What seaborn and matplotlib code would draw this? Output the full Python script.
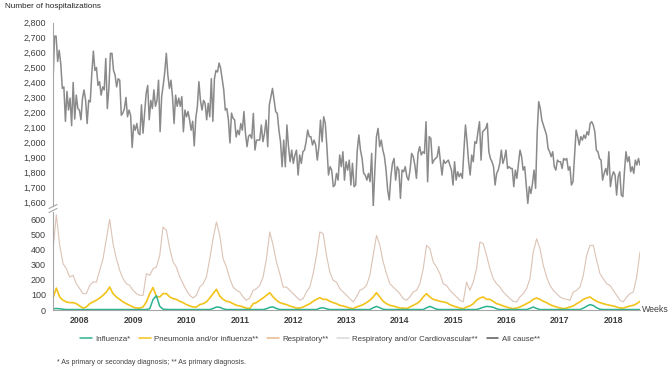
import numpy as np
import matplotlib
matplotlib.use("Agg")
import matplotlib.pyplot as plt
from matplotlib.lines import Line2D
import seaborn as sns

# ---------------- data ----------------
years = [str(y) for y in range(2008, 2019)]

# All cause** (weekly) in three consecutive stretches
all_cause_a = [2400, 2710, 2710, 2540, 2615, 2525, 2360, 2370, 2140, 2340, 2215, 2295, 2110, 2400, 2155, 2315,
               2225, 2215, 2150, 2295, 2350, 2280, 2125, 2280, 2270, 2460, 2610, 2480, 2500, 2380, 2405, 2315,
               2370, 2350, 2560, 2225,
               2360, 2595, 2595, 2480, 2450, 2370, 2425, 2415, 2180, 2195, 2225, 2300, 2170, 2215, 2180, 1965,
               2115, 2080, 2125, 2060, 2050, 2250, 2060, 2195, 2325, 2380, 2150, 2280, 2225, 2350, 2240, 2280,
               2415, 2070,
               2305, 2380, 2470, 2595, 2450, 2360, 2415, 2305, 2125, 2315, 2240, 2295, 2240, 2305, 2070, 2215,
               2170, 2205, 2150, 2080, 2140, 1975, 2160, 2240, 2405, 2280, 2215, 2280, 2260, 2150, 2260, 2170,
               2425, 2140,
               2425, 2480, 2470, 2530, 2495, 2425, 2350, 2215, 2225, 2150, 1995, 2195, 2160, 2150, 2035, 2080,
               2050, 2125, 2080, 2205, 2060, 1970, 2040, 2050]
all_cause_b = [2025, 2193, 1947, 2014, 2014, 2014, 2115, 2003, 2059, 2148, 1970, 2249, 2304, 2360, 2282, 2204,
               2193, 2081, 2003, 1836, 2014, 1836, 2115, 1970, 1869, 1947, 1858, 1914, 1947, 1780, 1914, 1858,
               1936, 1947, 2003, 2081, 2037, 2037, 1981, 2014, 1981, 1880, 1970, 2148, 2003, 2170, 2126, 1970,
               1780, 1836, 1813, 1702, 1713, 1791, 1746, 1914, 1836, 1936, 1746, 1869, 1813, 1880, 1713, 1858,
               1702, 1713, 1947, 2048, 1947, 1891, 1791, 1780, 1746, 1791, 1735, 1925, 1568, 1813, 2037, 2092,
               1970, 2014, 1947, 1903, 1813, 1680, 1613, 1769, 1858, 1891, 1746, 1836, 1813, 1624, 1813, 1802,
               1836, 1769, 1746, 1813, 1925, 1903, 1847, 1758, 1925, 1970, 1914, 1936, 1925, 2137, 1735, 2037,
               2025, 1858, 1880, 1891, 1903, 1970, 1869, 1780, 1880, 1858]
all_cause_c = [1869, 1880, 1847, 1813, 1713, 1869, 1746, 1802, 1769, 1791, 1758, 1947, 2115, 2003, 1869, 1780,
               1914, 1869, 2003, 1992, 2070, 2137, 1880, 2070, 2081, 2092, 2126, 1936, 1891, 1869, 1836, 1713,
               1791, 1813, 1858, 1947, 1858, 1891, 1947, 1824, 1836, 1824, 1824, 1702, 1813, 1758, 1858, 1947,
               1903, 1813, 1836, 1713, 1590, 1702, 1657, 1724, 1813, 1691, 2059, 2271, 2226, 2148, 2115, 2081,
               2048, 1958, 1936, 1903, 1936, 1836, 1813, 1880, 1869, 1869, 1824, 1891, 1880, 1891, 1813, 1836,
               1713, 1735, 1903, 2081, 2037, 1981, 2037, 2014, 2048, 2025, 2070, 2048, 2126, 2137, 2115, 2070,
               1947, 1936, 1891, 1880, 1746, 1791, 1824, 1780, 1936, 1702, 1769, 1802, 1780, 1646, 1769, 1802,
               1646, 1635, 1802, 1936, 1869, 1903, 1802, 1836, 1791, 1880, 1847, 1891, 1847]
all_cause_spans = [(2008.0, 2011.694), (2011.694, 2015.35), (2015.35, 2019.0)]

# Respiratory** (every ~3 weeks)
respiratory = [400, 635, 431, 309, 275, 220, 231, 175, 142, 109, 109, 164, 186, 186, 264, 342, 475, 604, 442, 342,
               264, 209, 175, 164, 131, 109, 98, 98, 242, 231, 275, 286, 364, 553, 531, 409, 320, 286, 220, 175,
               131, 98, 80, 98, 153, 175, 220, 342, 475, 586, 497, 342, 286, 209, 153, 131, 120, 87, 65, 80,
               131, 142, 164, 220, 342, 520, 431, 320, 242, 153, 153, 131, 109, 87, 65, 76, 120, 153, 242, 364,
               520, 509, 364, 253, 198, 186, 142, 120, 98, 76, 54, 87, 131, 142, 164, 231, 364, 497, 431, 320,
               242, 175, 153, 131, 109, 76, 65, 87, 120, 131, 175, 275, 431, 409, 320, 286, 242, 175,
               164, 131, 109, 87, 65, 54, 186, 131, 186, 275, 453, 442, 364, 275, 209, 175, 153, 120, 98, 76,
               58, 54, 87, 109, 142, 209, 386, 475, 409, 298, 220, 164, 131, 109, 87, 76, 71, 65, 120, 131,
               153, 231, 364, 431, 431, 331, 242, 209, 175, 164, 131, 98, 65, 54, 87, 109, 120, 220, 386]

# Pneumonia and/or influenza**
pneumonia = [80, 146, 87, 65, 54, 49, 49, 42, 27, 13, 20, 42, 54, 65, 80, 98, 120, 153, 109, 87,
             71, 54, 42, 31, 20, 13, 13, 20, 54, 109, 150, 90, 87, 109, 109, 87, 76, 71, 58, 49,
             36, 27, 20, 20, 36, 42, 54, 80, 109, 138, 93, 71, 58, 54, 42, 31, 27, 20, 13, 9,
             42, 49, 65, 80, 98, 115, 87, 65, 49, 42, 36, 27, 20, 13, 13, 20, 31, 42, 58, 71,
             82, 71, 71, 58, 49, 42, 31, 27, 20, 13, 9, 20, 27, 36, 49, 65, 87, 115, 87, 58,
             42, 31, 27, 20, 13, 13, 9, 20, 31, 42, 58, 87, 109, 87, 71, 65, 58, 54,
             49, 36, 27, 20, 13, 9, 20, 27, 42, 65, 80, 87, 71, 71, 58, 42, 36, 27, 20, 13,
             9, 13, 20, 31, 42, 54, 71, 80, 71, 58, 49, 36, 27, 20, 13, 9, 13, 20, 27, 42,
             54, 71, 80, 87, 71, 58, 49, 42, 36, 31, 27, 20, 13, 13, 20, 27, 31, 42, 58]

# Influenza*
influenza = [8, 10, 8, 5, 3, 3, 3, 3, 3, 3, 3, 3, 3, 3, 3, 3,
             3, 3, 3, 3, 3, 3, 3, 3, 3, 3, 3, 3, 3, 8, 70, 95,
             25, 5, 4, 3, 3, 3, 3, 3, 3, 3, 3, 3, 3, 3, 3, 3,
             10, 20, 18, 8, 3, 3, 3, 3, 3, 3, 3, 3, 3, 3, 3, 3,
             8, 18, 20, 10, 3, 3, 3, 3, 3, 3, 3, 3, 3, 3, 3, 3,
             12, 15, 8, 3, 3, 3, 3, 3, 3, 3, 3, 3, 3, 3, 3, 3,
             15, 24, 15, 5, 3, 3, 3, 3, 3, 3, 3, 3, 3, 3, 3, 3,
             15, 24, 15, 5, 3, 3, 3, 3, 3, 3, 3, 3, 3, 3, 3, 3,
             10, 18, 24, 22, 18, 8, 3, 3, 3, 3, 3, 3, 3, 3, 3, 10,
             20, 10, 3, 3, 3, 3, 3, 3, 3, 3, 3, 3, 3, 3, 3, 12,
             25, 36, 30, 15, 5, 3, 3, 3, 3, 3, 3, 3, 3, 3, 3, 3,
             3]

legend_labels = ["Influenza*", "Pneumonia and/or influenza**", "Respiratory**",
                 "Respiratory and/or Cardiovascular**", "All cause**"]

# ---------------- styling ----------------
sns.set_style("white")
plt.rcParams["font.family"] = ["Liberation Sans", "DejaVu Sans"]
TXT = "#404040"
AXC = "#a6a6a6"
C_INF, C_PNE, C_RES, C_RC, C_ALL = "#2bb38f", "#f2c31b", "#dcc3b5", "#d9d9d9", "#8a8a8a"

W, H = 669, 371
fig = plt.figure(figsize=(W / 100, H / 100), dpi=100)
left, right = 53 / W, 640 / W
ax_top = fig.add_axes([left, 1 - 206.4 / H, right - left, 183.7 / H])
ax_bot = fig.add_axes([left, 1 - 310 / H, right - left, 98 / H])

# time grids
segs = [all_cause_a, all_cause_b, all_cause_c]
t_all = []
for i, (seg, (a, b)) in enumerate(zip(segs, all_cause_spans)):
    tt = np.linspace(a, b, len(seg)) if i == 0 else np.linspace(a, b, len(seg) + 1)[1:]
    t_all.append(tt)
t_all = np.concatenate(t_all)
v_all = np.array(all_cause_a + all_cause_b + all_cause_c, dtype=float)
t_low = np.linspace(2008.0, 2019.0, len(respiratory))

sns.lineplot(x=t_all, y=v_all, ax=ax_top, color=C_ALL, linewidth=1.1, legend=False)
sns.lineplot(x=t_low, y=respiratory, ax=ax_bot, color=C_RES, linewidth=0.8, legend=False)
sns.lineplot(x=t_low, y=pneumonia, ax=ax_bot, color=C_PNE, linewidth=1.2, legend=False)
sns.lineplot(x=t_low, y=influenza, ax=ax_bot, color=C_INF, linewidth=1.1, legend=False)

for ax in (ax_top, ax_bot):
    ax.set_xlim(2008, 2019)
    for s in ("top", "right"):
        ax.spines[s].set_visible(False)
    ax.spines["left"].set_color(AXC)
    ax.spines["left"].set_linewidth(0.8)
    ax.tick_params(axis="y", direction="out", length=3, width=0.6, color=AXC,
                   labelsize=6.5, labelcolor=TXT, pad=2)
    ax.set_xlabel("")
    ax.set_ylabel("")

ax_top.spines["bottom"].set_visible(False)
ax_top.set_ylim(1570, 2800)
ax_top.set_yticks(range(1600, 2801, 100))
ax_top.set_yticklabels([f"{v:,}" for v in range(1600, 2801, 100)])
ax_top.set_xticks([])

ax_bot.set_ylim(0, 653)
ax_bot.set_yticks(range(0, 601, 100))
ax_bot.set_yticklabels([str(v) for v in range(0, 601, 100)])
ax_bot.spines["bottom"].set_color(AXC)
ax_bot.spines["bottom"].set_linewidth(0.8)
ax_bot.set_xticks(range(2008, 2020))
ax_bot.set_xticklabels([])
ax_bot.tick_params(axis="x", which="major", direction="out", length=13, width=0.8, color="#bfbfbf")
ax_bot.set_xticks([y + 0.5 for y in range(2008, 2019)], minor=True)
ax_bot.set_xticklabels(years, minor=True, fontsize=6.3, fontweight="bold", color=TXT)
ax_bot.tick_params(axis="x", which="minor", length=0, pad=4.5)

# axis break marks
for yb in (205.5, 209.5):
    fig.add_artist(Line2D([49 / W, 57 / W], [1 - (yb + 3) / H, 1 - (yb - 1) / H],
                          color=AXC, linewidth=0.8))

fig.text(5 / W, 1 - 7 / H, "Number of hospitalizations", fontsize=5.9, color="#262626",
         ha="left", va="center")
fig.text(642 / W, 1 - 310 / H, "Weeks", fontsize=6.3, color=TXT, ha="left", va="center")

handles = [Line2D([], [], color=C_INF, lw=1.1), Line2D([], [], color=C_PNE, lw=1.1),
           Line2D([], [], color="#e6b98c", lw=1.1), Line2D([], [], color=C_RC, lw=1.1),
           Line2D([], [], color="#595959", lw=1.1)]
fig.legend(handles, legend_labels, loc="center", bbox_to_anchor=(310 / W, 1 - 339 / H),
           ncol=5, frameon=False, fontsize=5.7, handlelength=1.5, columnspacing=1.1,
           handletextpad=0.4, labelcolor=TXT)

fig.text(57 / W, 1 - 362 / H, "* As primary or seconday diagnosis; ** As primary diagnosis.",
         fontsize=5.0, color=TXT, ha="left", va="center")

fig.savefig("out.png", dpi=100)
